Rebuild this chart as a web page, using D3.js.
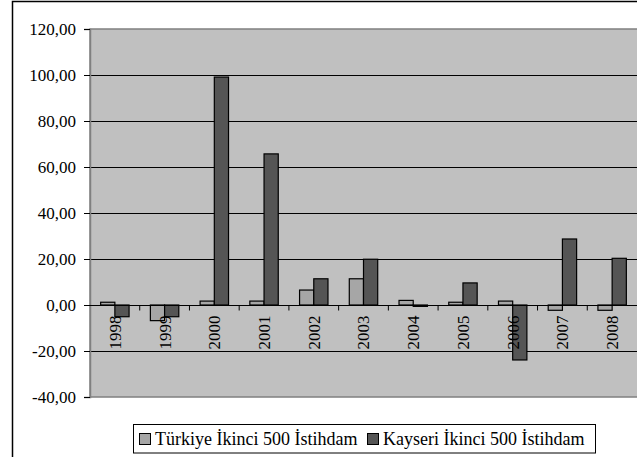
<!DOCTYPE html>
<html><head><meta charset="utf-8">
<script src="https://cdn.jsdelivr.net/npm/d3@7"></script>
<style>html,body{margin:0;padding:0;background:#fff;overflow:hidden}</style>
</head><body>
<svg id="c" width="637" height="457"></svg>
<script>
const categories = ["1998","1999","2000","2001","2002","2003","2004","2005","2006","2007","2008"];
const turkiye = [1.2, -6.8, 1.7, 1.7, 6.5, 11.4, 2.0, 1.2, 1.7, -2.3, -2.3];
const kayseri = [-5.1, -5.1, 99.1, 65.7, 11.4, 19.9, -0.6, 9.6, -23.9, 28.7, 20.3];
const yTicks = [120, 100, 80, 60, 40, 20, 0, -20, -40];
const seriesNames = ["Türkiye İkinci 500 İstihdam", "Kayseri İkinci 500 İstihdam"];
const seriesColors = ["#a6a6a6", "#555555"];

const FONT = '"Liberation Serif"';
const locale = d3.formatLocale({decimal:",", thousands:".", grouping:[3], currency:["",""], minus:"-"});
const fmt = locale.format(".2f");
const svg = d3.select("#c");
// outer frame
svg.append("rect").attr("x",12.5).attr("y",1.5).attr("width",640).attr("height",470)
  .attr("fill","#fff").attr("stroke","#000").attr("stroke-width",1.5);

const L=90, R=637, T=29, B=397;
const y = d3.scaleLinear().domain([-40,120]).range([B,T]);
const x = d3.scaleBand().domain(categories).range([L,R]).paddingInner(0).paddingOuter(0);
const bw = x.bandwidth()/3.5;

svg.append("rect").attr("x",L).attr("y",T).attr("width",R-L+5).attr("height",B-T)
  .attr("fill","#c0c0c0").attr("stroke","#808080").attr("stroke-width",1.5);

// gridlines
svg.append("g").selectAll("line").data(yTicks.filter(v=>v<120 && v>-40)).join("line")
  .attr("x1",L).attr("x2",R+5).attr("y1",d=>Math.round(y(d))+0.5).attr("y2",d=>Math.round(y(d))+0.5)
  .attr("stroke","#000").attr("stroke-width",1);

// y axis
const ya = d3.axisLeft(y).tickValues(yTicks).tickSize(6).tickPadding(8).tickFormat(fmt);
const gy = svg.append("g").attr("transform",`translate(${L},0)`).call(ya);
gy.attr("font-family",null).attr("font-size",null);
gy.select(".domain").attr("stroke","#808080").attr("stroke-width",1.5);
gy.selectAll(".tick line").attr("stroke","#000");
gy.selectAll(".tick text").style("font-family",FONT).style("font-size","17px").attr("fill","#000");

// bars
const g = svg.append("g");
g.selectAll("rect.t").data(categories).join("rect").attr("class","t")
  .attr("x",(d)=>x(d)+x.bandwidth()/2-bw)
  .attr("y",(d,i)=>y(Math.max(0,turkiye[i])))
  .attr("width",bw).attr("height",(d,i)=>Math.abs(y(turkiye[i])-y(0)))
  .attr("fill",seriesColors[0]).attr("stroke","#000").attr("stroke-width",1.2);
g.selectAll("rect.k").data(categories).join("rect").attr("class","k")
  .attr("x",(d)=>x(d)+x.bandwidth()/2)
  .attr("y",(d,i)=>y(Math.max(0,kayseri[i])))
  .attr("width",bw).attr("height",(d,i)=>Math.abs(y(kayseri[i])-y(0)))
  .attr("fill",seriesColors[1]).attr("stroke","#000").attr("stroke-width",1.2);

// x axis at zero
const y0 = Math.round(y(0))+0.5;
svg.append("line").attr("x1",L).attr("x2",R+5).attr("y1",y0).attr("y2",y0).attr("stroke","#000").attr("stroke-width",1.2);
svg.append("g").selectAll("line").data(categories.slice(1)).join("line")
  .attr("x1",d=>x(d)).attr("x2",d=>x(d)).attr("y1",y0).attr("y2",y0+5).attr("stroke","#000");
svg.append("g").selectAll("text").data(categories).join("text")
  .attr("transform",d=>`translate(${x(d)+x.bandwidth()/2},${y0+10}) rotate(-90)`)
  .attr("text-anchor","end").attr("dy","0.35em")
  .style("font-family",FONT).style("font-size","17px").attr("fill","#000").text(d=>d);

// legend
const lg = svg.append("g");
lg.append("rect").attr("x",133.5).attr("y",424.5).attr("width",462).attr("height",28.5)
  .attr("fill","#fff").attr("stroke","#000").attr("stroke-width",1);
const lx = [139, 367];
seriesNames.forEach((n,i)=>{
  lg.append("rect").attr("x",lx[i]+0.5).attr("y",433.5).attr("width",11).attr("height",11)
    .attr("fill",seriesColors[i]).attr("stroke","#000");
  lg.append("text").attr("x",lx[i]+16).attr("y",445).style("font-family",FONT).style("font-size","18px")
    .attr("fill","#000").text(n);
});
</script>
</body></html>
